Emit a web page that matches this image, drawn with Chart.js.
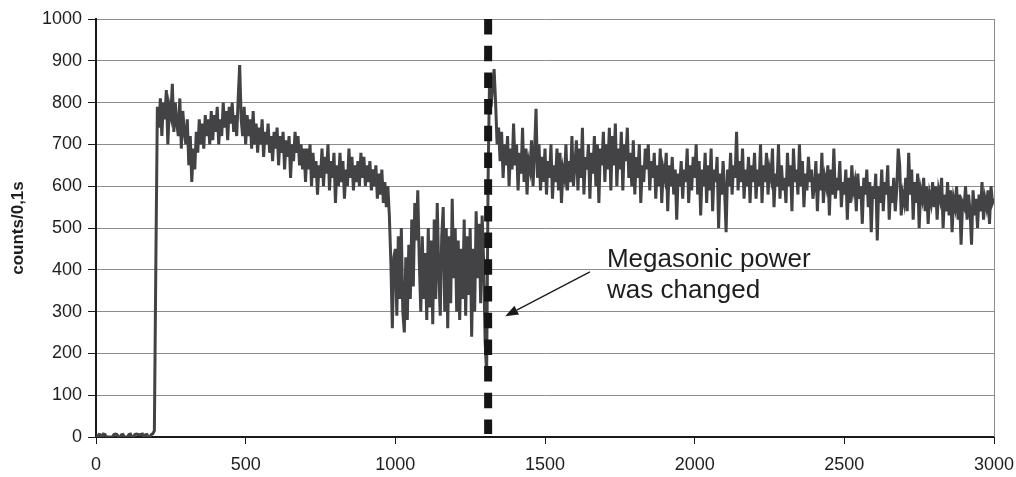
<!DOCTYPE html>
<html>
<head>
<meta charset="utf-8">
<script src="https://cdn.jsdelivr.net/npm/chart.js@4/dist/chart.umd.min.js"></script>
<style>
  html, body { margin: 0; padding: 0; background: #ffffff; }
  #wrap { width: 1016px; height: 477px; position: relative; }
</style>
</head>
<body>
<div id="wrap"><canvas id="c" width="1016" height="477"></canvas></div>
<script>
// Sampling interval of the counter trace (time axis units)
const SAMPLE_STEP = 5;

// Counts before the megasonic source is switched on (t = 0 … 195)
const idleCounts = [
  0,0,6,5,0,7,6,0,0,0,0,0,6,7,6,0,0,5,6,0,
  0,0,6,7,0,0,6,7,6,5,6,7,0,5,6,0,0,6,8,15
];

// Counts at the first power setting (t = 200 … 1305)
const firstPowerCounts = [
  420,790,740,810,720,800,760,830,700,790,770,845,730,800,750,720,810,690,780,730,
  700,760,650,720,610,690,640,730,680,760,700,750,690,770,720,760,700,780,710,770,
  730,790,700,760,720,800,740,780,710,790,750,800,730,770,720,810,890,760,720,790,
  700,770,720,760,690,780,700,750,680,740,700,760,670,730,700,750,680,720,660,730,
  690,740,650,720,680,730,640,710,670,720,620,700,660,730,680,720,650,700,640,690,
  610,690,640,700,600,680,620,660,580,650,620,690,600,670,630,700,590,660,620,680,
  560,650,600,680,610,660,570,640,600,690,620,670,590,650,610,660,600,680,620,670,
  600,650,610,660,590,640,600,650,570,630,580,640,560,610,550,600,530,420,260,430,
  450,290,480,330,500,300,250,430,280,460,330,520,360,560,470,590,420,300,480,330,
  440,280,500,310,470,270,520,330,560,400,290,480,550,300,500,260,480,320,570,380,
  500,300,470,280,450,330,520,290,480,340,500,240,450,300,540,380,510,320,530,420,
  230,150
];

// Counts after the power was changed (t = 1310 … 3000)
const secondPowerCounts = [
  620,870,790,840,880,800,700,740,660,730,620,700,650,720,600,690,640,750,
  650,700,590,680,630,740,610,690,580,660,640,710,600,680,785,620,700,590,670,610,
  690,580,660,620,700,570,650,610,690,590,680,560,640,620,700,590,660,610,720,600,
  650,710,590,690,620,740,580,670,640,700,570,680,630,720,600,700,560,690,650,730,
  610,700,640,740,590,720,650,750,600,690,640,730,590,700,660,740,620,680,600,710,
  580,670,620,700,560,650,610,690,640,700,590,660,620,680,570,650,600,690,560,640,
  620,680,540,650,600,670,580,640,520,630,600,660,570,640,610,690,560,650,590,670,
  620,700,580,660,530,640,600,680,560,650,590,690,540,640,610,670,500,630,580,660,
  590,490,640,600,680,580,650,620,730,590,660,610,690,570,640,600,670,560,650,610,
  680,570,640,600,700,560,650,610,680,580,640,620,690,550,630,600,700,570,650,590,
  620,560,680,600,650,540,690,610,640,580,700,600,660,550,630,590,670,610,640,570,
  600,660,540,630,590,680,560,620,600,650,530,640,580,690,570,620,590,660,550,610,
  580,640,520,620,560,650,590,610,540,630,570,600,510,620,580,640,550,610,490,600,
  570,630,470,600,560,640,540,610,580,650,520,600,560,620,540,590,690,650,530,580,
  560,620,540,680,580,640,520,610,560,630,500,590,570,620,540,600,510,580,560,610,
  550,600,520,590,570,620,500,580,540,610,530,590,490,570,550,600,520,580,460,560,
  550,600,520,580,540,460,590,530,570,500,580,540,610,520,570,550,590,510,600,560,
  570
];

// Moment the megasonic power setting was changed
const powerChangeTime = 1310;

// Callout: arrow (tail → tip) and label, in axis units
const calloutLines = ['Megasonic power', 'was changed'];
const calloutTextAt = { x: 1707, y: 407 };
const arrowTail = { x: 1650, y: 395 };
const arrowTip = { x: 1367, y: 289 };

const allCounts = idleCounts.concat(firstPowerCounts, secondPowerCounts);
const trace = allCounts.map((v, i) => ({ x: i * SAMPLE_STEP, y: v }));

const FONT = '"Liberation Sans", Arial, Helvetica, sans-serif';

const decorations = {
  id: 'decorations',
  afterDraw(chart) {
    const { ctx, chartArea, scales } = chart;
    const xs = scales.x, ys = scales.y;
    ctx.save();

    // right frame edge
    ctx.strokeStyle = '#8c8c8c';
    ctx.lineWidth = 1;
    ctx.beginPath();
    ctx.moveTo(Math.round(chartArea.right) + 0.5, chartArea.top);
    ctx.lineTo(Math.round(chartArea.right) + 0.5, chartArea.bottom);
    ctx.stroke();

    // y-axis title
    ctx.fillStyle = '#1e1e1e';
    ctx.font = 'bold 17px ' + FONT;
    ctx.textAlign = 'center';
    ctx.textBaseline = 'middle';
    ctx.translate(18, 228);
    ctx.rotate(-Math.PI / 2);
    ctx.fillText('counts/0,1s', 0, 0);
    ctx.setTransform(1, 0, 0, 1, 0, 0);

    // arrow
    const tx = xs.getPixelForValue(arrowTail.x), ty = ys.getPixelForValue(arrowTail.y);
    const hx = xs.getPixelForValue(arrowTip.x), hy = ys.getPixelForValue(arrowTip.y);
    const ang = Math.atan2(hy - ty, hx - tx);
    const headLen = 13, headHalf = 5;
    const bx = hx - headLen * Math.cos(ang), by = hy - headLen * Math.sin(ang);
    ctx.strokeStyle = '#1a1a1a';
    ctx.lineWidth = 1.3;
    ctx.beginPath();
    ctx.moveTo(tx, ty);
    ctx.lineTo(bx, by);
    ctx.stroke();
    ctx.fillStyle = '#1a1a1a';
    ctx.beginPath();
    ctx.moveTo(hx, hy);
    ctx.lineTo(bx + headHalf * Math.sin(ang), by - headHalf * Math.cos(ang));
    ctx.lineTo(bx - headHalf * Math.sin(ang), by + headHalf * Math.cos(ang));
    ctx.closePath();
    ctx.fill();

    // callout text
    ctx.font = '26px ' + FONT;
    ctx.textAlign = 'left';
    ctx.textBaseline = 'alphabetic';
    ctx.fillStyle = '#1e1e1e';
    const lx = xs.getPixelForValue(calloutTextAt.x);
    const ly = ys.getPixelForValue(calloutTextAt.y);
    calloutLines.forEach((line, i) => ctx.fillText(line, lx, ly + i * 31));

    ctx.restore();
  }
};

const plainNumber = v => String(v);

new Chart(document.getElementById('c'), {
  type: 'line',
  data: {
    datasets: [
      {
        label: 'counts',
        data: trace,
        borderColor: '#434345',
        borderWidth: 3,
        pointRadius: 0,
        tension: 0,
        fill: false,
        order: 2
      },
      {
        label: 'power change',
        data: [{ x: powerChangeTime, y: 1000 }, { x: powerChangeTime, y: 7 }],
        borderColor: '#151515',
        borderWidth: 8,
        borderDash: [15.5, 11.2],
        borderCapStyle: 'butt',
        pointRadius: 0,
        fill: false,
        order: 1
      }
    ]
  },
  options: {
    responsive: false,
    animation: false,
    layout: { padding: { left: 0, right: 22, top: 19, bottom: 0 } },
    plugins: { legend: { display: false }, tooltip: { enabled: false } },
    scales: {
      x: {
        type: 'linear',
        min: 0, max: 3000,
        afterFit(s) { s.height = 40; s.paddingLeft = 0; s.paddingRight = 0; },
        border: { display: true, color: '#1a1a1a', width: 2 },
        grid: { drawOnChartArea: false, drawTicks: true, tickLength: 7, color: '#1a1a1a', tickColor: '#1a1a1a' },
        ticks: { stepSize: 500, padding: 10, color: '#1e1e1e', font: { family: FONT, size: 18 }, callback: plainNumber }
      },
      y: {
        min: 0, max: 1000,
        afterFit(s) { s.width = 96; s.paddingTop = 0; s.paddingBottom = 0; },
        border: { display: true, color: '#1a1a1a', width: 2 },
        grid: { color: '#8c8c8c', lineWidth: 1, tickLength: 8, tickColor: '#1a1a1a' },
        ticks: { stepSize: 100, padding: 6, color: '#1e1e1e', font: { family: FONT, size: 18 }, callback: plainNumber }
      }
    }
  },
  plugins: [decorations]
});
</script>
</body>
</html>
